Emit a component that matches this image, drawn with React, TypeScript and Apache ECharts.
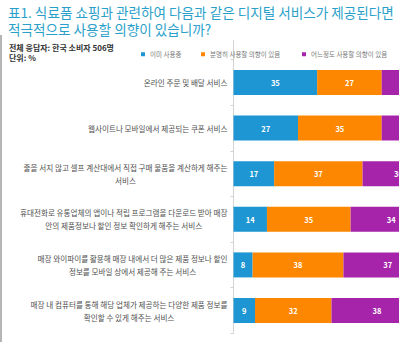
import React, { useEffect, useRef } from "react";
import * as echarts from "echarts";

const titleLines = [
  "표1. 식료품 쇼핑과 관련하여 다음과 같은 디지털 서비스가 제공된다면",
  "적극적으로 사용할 의향이 있습니까?",
];
const subtitle = "전체 응답자: 한국 소비자 506명";
const unitText = "단위: %";

const categories = [
  "온라인 주문 및 배달 서비스",
  "웹사이트나 모바일에서 제공되는 쿠폰 서비스",
  "줄을 서지 않고 셀프 계산대에서 직접 구매 물품을 계산하게 해주는\n서비스",
  "휴대전화로 유통업체의 앱이나 적립 프로그램을 다운로드 받아 매장\n안의 제품정보나 할인 정보 확인하게 해주는 서비스",
  "매장 와이파이를 활용해 매장 내에서 더 많은 제품 정보나 할인\n정보를 모바일 상에서 제공해 주는 서비스",
  "매장 내 컴퓨터를 통해 해당 업체가 제공하는 다양한 제품 정보를\n확인할 수 있게 해주는 서비스",
];

const seriesNames = ["이미 사용중", "분명히 사용할 의향이 있음", "어느정도 사용할 의향이 있음"];
const alreadyUsing = [35, 27, 17, 14, 8, 9];
const definitelyWill = [27, 35, 37, 35, 38, 32];
const somewhatWill = [24, 26, 30, 34, 37, 38];

const colors = ["#1d96d3", "#fd8700", "#a524a9"];

export default function App() {
  const ref = useRef<HTMLDivElement>(null);
  useEffect(() => {
    if (!ref.current) return;
    const chart = echarts.init(ref.current, undefined, { renderer: "svg" });
    const values = [alreadyUsing, definitelyWill, somewhatWill];
    const legendLefts = [141, 201, 302];
    const titleStyle = {
      fontSize: 13.6,
      fontWeight: "normal",
      color: "#2a9fca",
      lineHeight: 16,
      fontFamily: "'Noto Sans CJK KR', sans-serif",
    };
    chart.setOption({
      animation: false,
      color: colors,
      textStyle: { fontFamily: "'Noto Sans CJK KR', 'Noto Sans', sans-serif" },
      title: [
        { text: titleLines[0], left: 8, top: 4, padding: 0, textStyle: titleStyle },
        { text: titleLines[1], left: 8, top: 21, padding: 0, textStyle: titleStyle },
        {
          text: subtitle + "\n" + unitText,
          left: 9,
          top: 42,
          padding: 0,
          textStyle: {
            fontSize: 8,
            fontWeight: "bold",
            color: "#333",
            lineHeight: 10.5,
            fontFamily: "'Noto Sans CJK KR', sans-serif",
          },
        },
      ],
      legend: seriesNames.map((n, i) => ({
        data: [n],
        left: legendLefts[i],
        top: 51,
        icon: "rect",
        itemWidth: 4,
        itemHeight: 4,
        padding: 0,
        textStyle: { fontSize: 6.5, color: "#777" },
      })),
      grid: { left: 233.5, right: 7.5, top: 59.7, bottom: 8.7, containLabel: false },
      xAxis: { type: "value", min: 0, max: 100, show: false },
      yAxis: {
        type: "category",
        data: categories,
        inverse: true,
        axisLine: { show: true, lineStyle: { color: "#d4d4d4" } },
        axisTick: { show: true, length: 3, lineStyle: { color: "#d4d4d4" } },
        axisLabel: {
          margin: 6,
          formatter: (v: string) =>
            v
              .split("\n")
              .map((l) => `{c|${l}}`)
              .join("\n"),
          rich: {
            c: {
              align: "center",
              fontSize: 7.6,
              lineHeight: 13,
              color: "#505050",
              fontFamily: "'Noto Sans CJK KR', sans-serif",
            },
          },
        },
      },
      graphic: [
        {
          type: "line",
          shape: { x1: 1, y1: 35, x2: 1, y2: 342 },
          style: { stroke: "#b5b5b5", lineWidth: 2 },
        },
        {
          type: "line",
          shape: { x1: 233.5, y1: 40, x2: 233.5, y2: 60 },
          style: { stroke: "#d4d4d4", lineWidth: 1 },
        },
      ],
      series: seriesNames.map((n, i) => ({
        name: n,
        type: "bar",
        stack: "total",
        data: values[i],
        barWidth: 25,
        label: {
          show: true,
          position: "inside",
          color: "#fff",
          fontSize: 7.5,
          fontWeight: "bold",
        },
      })),
    });
    return () => chart.dispose();
  }, []);
  return (
    <div
      style={{
        position: "fixed",
        left: 0,
        top: 0,
        width: 399,
        height: 342,
        overflow: "hidden",
        background: "#fff",
      }}
    >
      <div ref={ref} style={{ width: 480, height: 342 }} />
    </div>
  );
}
